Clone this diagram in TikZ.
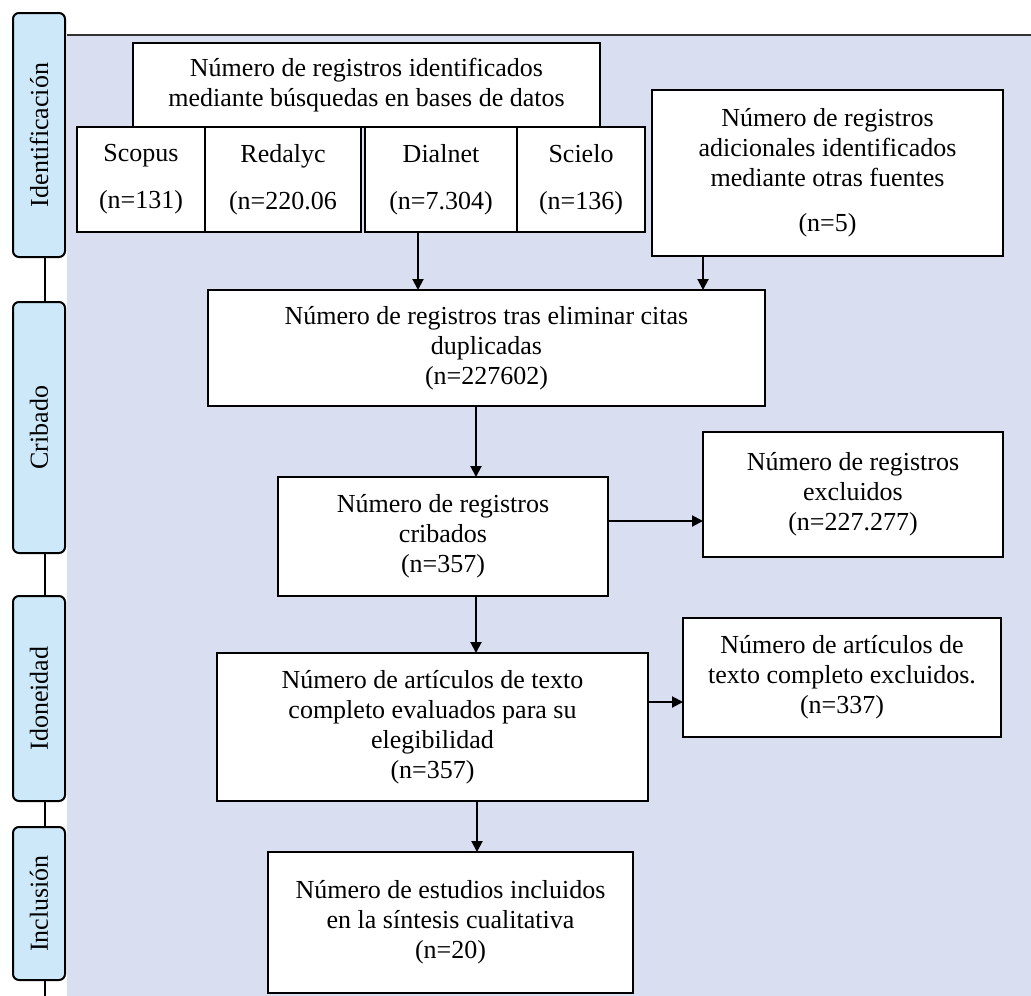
\documentclass[tikz,border=0pt]{standalone}
\usepackage{fontspec}
\setmainfont{Liberation Serif}
\usetikzlibrary{positioning,arrows.meta}
\definecolor{fondo}{RGB}{217,223,241}
\definecolor{azulfase}{RGB}{205,233,249}

\begin{document}
\begin{tikzpicture}[x=1pt,y=-1pt,
		caja/.style={draw,fill=white,line width=2pt,inner sep=0pt,outer sep=0pt,align=center,font=\fontsize{26}{30}\selectfont},
		etapa/.style={draw,fill=azulfase,line width=2pt,rounded corners=6pt,minimum width=52pt,inner sep=0pt,font=\fontsize{26}{30}\selectfont},
		flecha/.style={line width=2pt,-{Triangle[width=11pt,length=11pt]}}]
		\useasboundingbox (0,0) rectangle (1031,996);
		\fill[fondo] (67,35) rectangle (1031,996);
		\draw[line width=2pt,black!80] (67,35) -- (1031,35);

		\node[etapa,minimum height=244pt]	(identif)	at (39,135)		{\rotatebox{90}{Identificación}};
		\node[etapa,minimum height=251pt]	(cribado)	at (39,427.5)	{\rotatebox{90}{Cribado}};
		\node[etapa,minimum height=205pt]	(idoneidad)	at (39,698.5)	{\rotatebox{90}{Idoneidad}};
		\node[etapa,minimum height=153pt]	(inclusion)	at (39,903.5)	{\rotatebox{90}{Inclusión}};
		\coordinate (fin) at (45,996);

		\draw[line width=2pt] ([xshift=6pt]identif.south) -- ([xshift=6pt]cribado.north);
		\draw[line width=2pt] ([xshift=6pt]cribado.south) -- ([xshift=6pt]idoneidad.north);
		\draw[line width=2pt] ([xshift=6pt]idoneidad.south) -- ([xshift=6pt]inclusion.north);
		\draw[line width=2pt] ([xshift=6pt]inclusion.south) -- (fin);

		\node[caja,minimum width=467pt,minimum height=84pt]	(bases)	at (366.5,85)	{Número de registros identificados\\mediante búsquedas en bases de datos};
		\node[caja,minimum width=128pt,minimum height=105pt]	(scopus)	at (141,179.5)	{Scopus\\[17pt](n=131)};
		\node[caja,minimum width=156pt,minimum height=105pt,right=0pt of scopus]	(redalyc)	{Redalyc\\[17pt](n=220.06};
		\node[caja,minimum width=152pt,minimum height=105pt,right=4pt of redalyc]	(dialnet)	{Dialnet\\[17pt](n=7.304)};
		\node[caja,minimum width=128pt,minimum height=105pt,right=0pt of dialnet]	(scielo)	{Scielo\\[17pt](n=136)};
		\node[caja,minimum width=351pt,minimum height=166pt]	(adicionales)	at (827.5,173)	{Número de registros\\adicionales identificados\\mediante otras fuentes\\[15pt](n=5)};
		\node[caja,minimum width=557pt,minimum height=116pt]	(duplicados)	at (486.5,348)	{Número de registros tras eliminar citas\\duplicadas\\(n=227602)};
		\node[caja,minimum width=330pt,minimum height=119pt]	(cribados)	at (443,536.5)	{Número de registros\\cribados\\(n=357)};
		\node[caja,minimum width=300pt,minimum height=125pt]	(excluidos)	at (853,494.5)	{Número de registros\\excluidos\\(n=227.277)};
		\node[caja,minimum width=431pt,minimum height=148pt]	(elegibles)	at (432.5,727)	{Número de artículos de texto\\completo evaluados para su\\elegibilidad\\(n=357)};
		\node[caja,minimum width=318pt,minimum height=119pt]	(excluidostexto)	at (842,677.5)	{Número de artículos de\\texto completo excluidos.\\(n=337)};
		\node[caja,minimum width=365pt,minimum height=141pt]	(incluidos)	at (450.5,922.5)	{Número de estudios incluidos\\en la síntesis cualitativa\\(n=20)};

		\draw[flecha] ([xshift=-23pt]dialnet.south) -- ([xshift=-23pt]dialnet.south |- duplicados.north);
		\draw[flecha] ([xshift=-124.5pt]adicionales.south) -- ([xshift=-124.5pt]adicionales.south |- duplicados.north);
		\draw[flecha] ([xshift=-10.5pt]duplicados.south) -- ([xshift=-10.5pt]duplicados.south |- cribados.north);
		\draw[flecha] ([yshift=15.5pt]cribados.east) -- ([yshift=15.5pt]cribados.east -| excluidos.west);
		\draw[flecha] ([xshift=33pt]cribados.south) -- ([xshift=33pt]cribados.south |- elegibles.north);
		\draw[flecha] ([yshift=25pt]elegibles.east) -- ([yshift=25pt]elegibles.east -| excluidostexto.west);
		\draw[flecha] ([xshift=44.5pt]elegibles.south) -- ([xshift=44.5pt]elegibles.south |- incluidos.north);
	\end{tikzpicture}
\end{document}
